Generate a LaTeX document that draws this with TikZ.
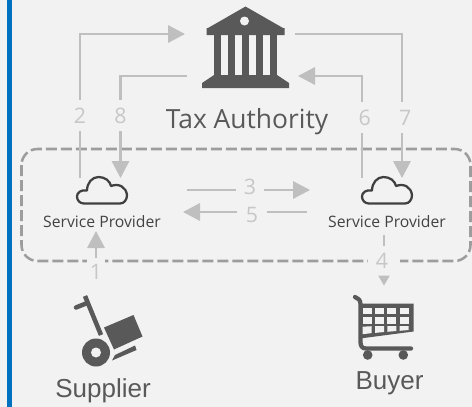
\documentclass[tikz,border=0pt]{standalone}
\usepackage{fontspec}
\usepackage{xcolor}
\usetikzlibrary{arrows.meta}
\setmainfont{Open Sans}
\newfontfamily\arialfont{Liberation Sans}
\definecolor{paper}{HTML}{F2F2F2}
\definecolor{flowgray}{HTML}{BFBFBF}
\definecolor{icongray}{HTML}{595959}
\definecolor{barblue}{HTML}{0070C0}
\tikzset{
  flowline/.style={draw=flowgray, line width=1.7pt},
  flowhead/.style={flowline, -{Triangle[length=12.75pt,width=13pt,fill=flowgray]}},
  stepnum/.style={text=flowgray!85!paper, font=\fontsize{16}{16}\selectfont, inner sep=0pt, outer sep=0pt},
  cloudbox/.style={minimum width=39pt, minimum height=20.25pt, inner sep=0pt, outer sep=0pt},
  provider/.style={text=icongray!75!black, font=\fontsize{11.8}{12}\selectfont, minimum height=13.5pt, inner sep=0pt, outer sep=0pt},
  party/.style={text=icongray, font=\arialfont\fontsize{19.5}{20}\selectfont, inner sep=0pt},
  cloudicon/.pic={
    \draw[draw=black!75, line width=1.7pt, line join=round] (-18,13.5) .. controls (-22,13.5) and (-25,10.5) .. (-25,6.5)
      .. controls (-25,2.5) and (-21,-0.5) .. (-15,0.5) .. controls (-15,-7) and (-10,-13) .. (-3.5,-13)
      .. controls (3,-13) and (8,-9) .. (9,-4) .. controls (17,-7) and (24,-3) .. (25,5)
      .. controls (25,10) and (22,13.5) .. (18,13.5) -- cycle;
  }
}

\begin{document}
\begin{tikzpicture}[x=0.75pt,y=-0.75pt]
  \useasboundingbox (0,0) rectangle (472,407);
  \fill[paper] (0,0) rectangle (472,407);
  \fill[barblue] (7.3,0) rectangle (12.3,407);

  % bank
  \fill[icongray] (245.5,6.5) -- (283,28) -- (284.5,28) -- (284.5,35) -- (206.5,35) -- (206.5,28) -- (208,28) -- cycle;
  \foreach \colx in {214,228,242,256,269.5}
    \fill[icongray] (\colx,35) rectangle ++(7,40);
  \fill[icongray] (214,75) -- (277,75) -- (289,83) -- (289,88) -- (202,88) -- (202,83) -- cycle;
  \fill[paper] (244.5,21) circle (4.5);
  \node[text=icongray, font=\fontsize{19.8}{20}\selectfont, inner sep=0pt] (taxlabel) at (247,122) {Tax Authority};

  \coordinate (bankA) at (185,34);
  \coordinate (bankB) at (187,76);
  \coordinate (bankC) at (298,76);
  \coordinate (bankD) at (295,34);

  % frame
  \draw[draw=black!35!paper, line width=1.9pt, dash pattern=on 8.25pt off 3pt, rounded corners=12pt] (21.5,149) rectangle (470.5,261);

  % clouds
  \node[cloudbox] (cloudL) at (102,191.5) {};
  \node[cloudbox] (cloudR) at (387,191.5) {};
  \pic at (102,190) {cloudicon};
  \pic at (387,190) {cloudicon};
  \node[provider] (provL) at (102,222) {Service Provider};
  \node[provider] (provR) at (387,222) {Service Provider};

  % numbers
  \node[stepnum, minimum height=23.25pt] (num2) at (80,115.5) {2};
  \node[stepnum, minimum height=23.25pt] (num8) at (120.5,115.5) {8};
  \node[stepnum, minimum height=23.25pt] (num6) at (362,117.5) {\hspace{4pt}6};
  \node[stepnum, minimum height=23.25pt] (num7) at (402,117.5) {\hspace{5pt}7};
  \node[stepnum, minimum width=21pt] (num3) at (250,187) {3};
  \node[stepnum, minimum width=22.5pt] (num5) at (252,215) {5};
  \node[stepnum, fill=paper, minimum width=13.5pt, minimum height=20.25pt] (num1) at (96,271.5) {1};
  \node[stepnum, fill=paper, minimum width=24pt, minimum height=22.5pt] (num4) at (384,261) {\hspace{-3pt}4};

  % flows
  \draw[flowhead] (num2.north) |- (bankA);
  \draw[flowline] (num2.south) -- (num2 |- cloudL.north);
  \draw[flowline] (bankB) -| (num8.north);
  \draw[flowhead] (num8.south) -- (num8 |- cloudL.north);
  \draw[flowline] (num6.south) -- (num6 |- cloudR.north);
  \draw[flowhead] (num6.north) |- (bankC);
  \draw[flowline] (bankD) -| (num7.north);
  \draw[flowhead] (num7.south) -- (num7 |- cloudR.north);

  \coordinate (from3) at (187,190);
  \coordinate (to3) at (310,190);
  \coordinate (from5) at (307,212);
  \coordinate (to5) at (183,212);
  \draw[flowline] (from3) -- (num3.west |- from3);
  \draw[flowhead] (num3.east |- to3) -- (to3);
  \draw[flowline] (from5) -- (num5.east |- from5);
  \draw[flowhead] (num5.west |- to5) -- (to5);

  \draw[flowhead] (num1.north) -- (num1 |- provL.south);

  % supplier
  \draw[icongray, line width=3.4pt] (85,296) -- (101,335);
  \draw[icongray, line width=3.4pt, line cap=round] (76,307.5) -- (86,303.5);
  \fill[icongray] (104,327.5) -- (133.5,315) -- (142.5,336.5) -- (114,349.5) -- cycle;
  \fill[icongray] (112,360.5) -- (115,355) -- (135,345.5) -- (136.5,350) -- cycle;
  \fill[icongray] (96,352.5) circle (14);
  \fill[paper] (96,352.5) circle (5);
  \node[party] (supplier) at (103,391) {Supplier};

  % buyer
  \node[inner sep=0pt, minimum width=43.5pt, minimum height=58.5pt] (cart) at (384,325) {};
  \draw[flowline, shorten <=3pt] (num4 |- provR.south) -- (num4.north);
  \draw[flowline, -{Triangle[length=7.5pt,width=8pt,fill=flowgray]}] (num4.south) -- (num4 |- cart.north);
  \draw[icongray, line width=3.2pt, line cap=round, line join=round] (355,297) .. controls (358,298) and (360.5,300) .. (360.5,304) -- (360.5,342) .. controls (360.5,346) and (362,348.5) .. (366,348.5) -- (411,348.5);
  \fill[icongray] (360,303.5) -- (413.5,303.5) -- (413.5,331.5) -- (360,338.5) -- cycle;
  \foreach \cellx in {362.7,375,387.3,399.7}
    \foreach \celly in {307.7,317.3}
      \fill[paper] (\cellx,\celly) rectangle ++(9,6.3);
  \fill[paper] (362.7,326.7) -- (371.7,326.2) -- (371.7,333.1) -- (362.7,334.2) -- cycle;
  \fill[paper] (375,326.2) -- (384,326) -- (384,332) -- (375,332.9) -- cycle;
  \fill[paper] (387.3,326) -- (396.3,326) -- (396.3,331) -- (387.3,331.8) -- cycle;
  \fill[paper] (399.7,326) -- (408.7,326) -- (408.7,330) -- (399.7,330.8) -- cycle;
  \fill[icongray] (367.7,355) circle (4.8);
  \fill[icongray] (403.3,355) circle (4.8);
  \node[party] (buyer) at (389.5,383) {Buyer};
\end{tikzpicture}
\end{document}
